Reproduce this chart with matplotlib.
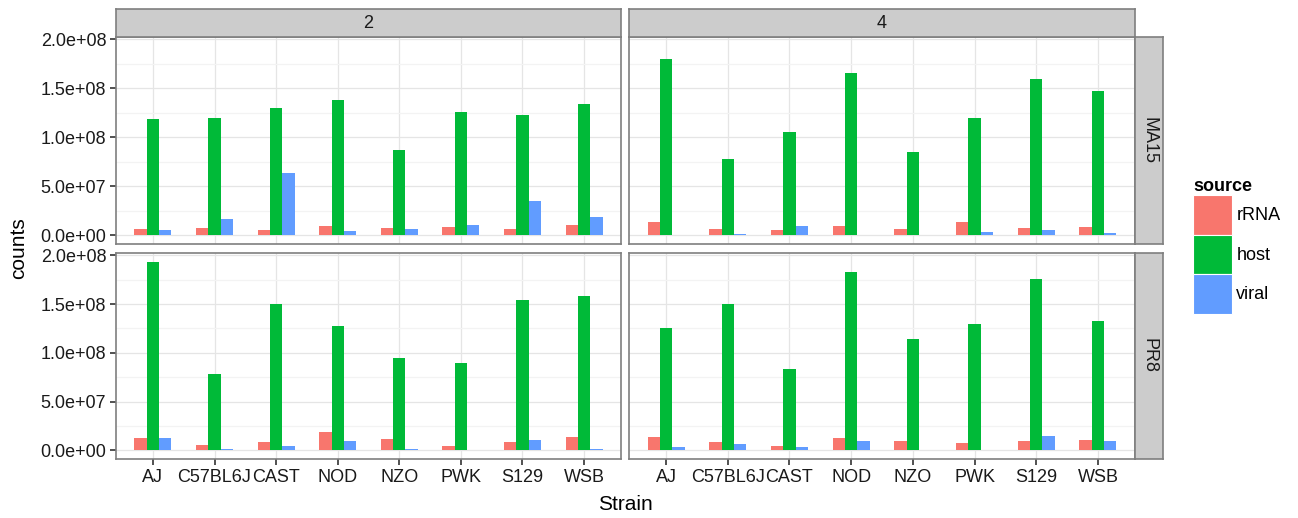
import matplotlib.pyplot as plt
import numpy as np
from matplotlib.patches import Patch
from matplotlib.ticker import FuncFormatter, MultipleLocator

plt.rcParams['font.family'] = ['Liberation Sans', 'DejaVu Sans']

strains = ['AJ', 'C57BL6J', 'CAST', 'NOD', 'NZO', 'PWK', 'S129', 'WSB']
days = ['2', '4']
viruses = ['MA15', 'PR8']
sources = ['rRNA', 'host', 'viral']
colors = ['#F8766D', '#00BA38', '#619CFF']

# counts in millions
ma15_d2_rrna = [6.8, 7.8, 5.4, 9.9, 7.8, 8.8, 6.1, 10.9]
ma15_d2_host = [118.7, 119.4, 130.0, 137.8, 87.4, 125.9, 122.4, 134.4]
ma15_d2_viral = [5.8, 16.7, 63.6, 4.1, 6.5, 10.9, 34.7, 18.7]

ma15_d4_rrna = [13.9, 6.1, 4.8, 9.5, 6.8, 13.6, 7.8, 8.5]
ma15_d4_host = [180.0, 78.2, 105.0, 166.0, 85.4, 119.4, 159.5, 147.0]
ma15_d4_viral = [0.3, 1.0, 9.9, 0.3, 0.3, 3.1, 5.8, 2.0]

pr8_d2_rrna = [13.0, 5.1, 8.2, 18.8, 11.3, 4.4, 8.5, 14.0]
pr8_d2_host = [192.8, 78.0, 150.0, 127.2, 94.7, 89.6, 153.8, 158.6]
pr8_d2_viral = [12.6, 1.0, 4.4, 9.9, 1.0, 0.3, 10.3, 1.0]

pr8_d4_rrna = [14.0, 8.5, 4.8, 13.0, 9.6, 7.5, 9.2, 10.6]
pr8_d4_host = [125.1, 150.0, 83.0, 182.6, 114.5, 130.0, 175.7, 132.3]
pr8_d4_viral = [3.1, 6.5, 3.1, 9.6, 0.3, 0.3, 14.7, 9.6]

counts = {
    ('MA15', '2'): [ma15_d2_rrna, ma15_d2_host, ma15_d2_viral],
    ('MA15', '4'): [ma15_d4_rrna, ma15_d4_host, ma15_d4_viral],
    ('PR8', '2'): [pr8_d2_rrna, pr8_d2_host, pr8_d2_viral],
    ('PR8', '4'): [pr8_d4_rrna, pr8_d4_host, pr8_d4_viral],
}

W, H = 1298, 518
fig = plt.figure(figsize=(W / 100, H / 100), dpi=100)


def px_axes(x0, y0, x1, y1):
    # pixel box (top-left origin) -> figure axes
    return fig.add_axes([x0 / W, 1 - y1 / H, (x1 - x0) / W, (y1 - y0) / H])


col_x = [(116, 621), (629, 1135)]
row_y = [(37, 244), (253, 459)]
border = '#7F7F7F'
strip_bg = '#CCCCCC'
txt = '#1A1A1A'

x = np.arange(1, len(strains) + 1)
bw = 0.2
fmt = FuncFormatter(lambda v, p: f'{v:.1e}')

for r, virus in enumerate(viruses):
    for c, day in enumerate(days):
        ax = px_axes(col_x[c][0], row_y[r][0], col_x[c][1], row_y[r][1])
        for k, vals in enumerate(counts[(virus, day)]):
            ax.bar(x + (k - 1) * bw, np.array(vals) * 1e6, width=bw,
                   color=colors[k], zorder=2, linewidth=0)
        ax.set_xlim(0.4, 8.6)
        ax.set_ylim(-0.09e8, 2.025e8)
        ax.set_xticks(x)
        ax.set_xticklabels(strains)
        ax.yaxis.set_major_locator(MultipleLocator(5e7))
        ax.yaxis.set_minor_locator(MultipleLocator(2.5e7))
        ax.yaxis.set_major_formatter(fmt)
        ax.grid(which='major', color='#E5E5E5', lw=0.9, zorder=0)
        ax.grid(which='minor', axis='y', color='#F3F3F3', lw=0.9, zorder=0)
        ax.set_axisbelow(True)
        for s in ax.spines.values():
            s.set_color(border)
            s.set_linewidth(1.2)
        ax.tick_params(which='major', length=4, width=1.2, color='#333333',
                       labelsize=13, labelcolor=txt, pad=3)
        ax.tick_params(which='minor', left=False)
        if c > 0:
            ax.tick_params(left=False, labelleft=False)
        if r == 0:
            ax.tick_params(bottom=False, labelbottom=False)

        # column strip on top row
        if r == 0:
            st = px_axes(col_x[c][0], 9, col_x[c][1], 37)
            st.set_facecolor(strip_bg)
            st.set_xticks([])
            st.set_yticks([])
            for s in st.spines.values():
                s.set_color(border)
                s.set_linewidth(1.2)
            st.text(0.5, 0.5, day, ha='center', va='center', fontsize=13,
                    color=txt, transform=st.transAxes)
        # row strip on right column
        if c == len(days) - 1:
            st = px_axes(1135, row_y[r][0], 1163, row_y[r][1])
            st.set_facecolor(strip_bg)
            st.set_xticks([])
            st.set_yticks([])
            for s in st.spines.values():
                s.set_color(border)
                s.set_linewidth(1.2)
            st.text(0.5, 0.5, virus, ha='center', va='center', fontsize=13,
                    rotation=-90, color=txt, transform=st.transAxes)

fig.text(625 / W, 1 - 505 / H, 'Strain', ha='center', va='center', fontsize=15)
fig.text(19 / W, 1 - 248 / H, 'counts', ha='center', va='center', fontsize=15,
         rotation=90)

handles = [Patch(facecolor=colors[k], edgecolor='white', linewidth=0.8)
           for k in range(len(sources))]
leg = fig.legend(handles, sources, loc='upper left',
                 bbox_to_anchor=(1193 / W, 1 - 178 / H), frameon=False,
                 fontsize=13, title='source', handlelength=2.15,
                 handleheight=3.0, labelspacing=0.0, handletextpad=0.25,
                 borderaxespad=0, borderpad=0, alignment='left',
                 title_fontproperties={'weight': 'bold', 'size': 13})

fig.savefig('out.png', dpi=100)
